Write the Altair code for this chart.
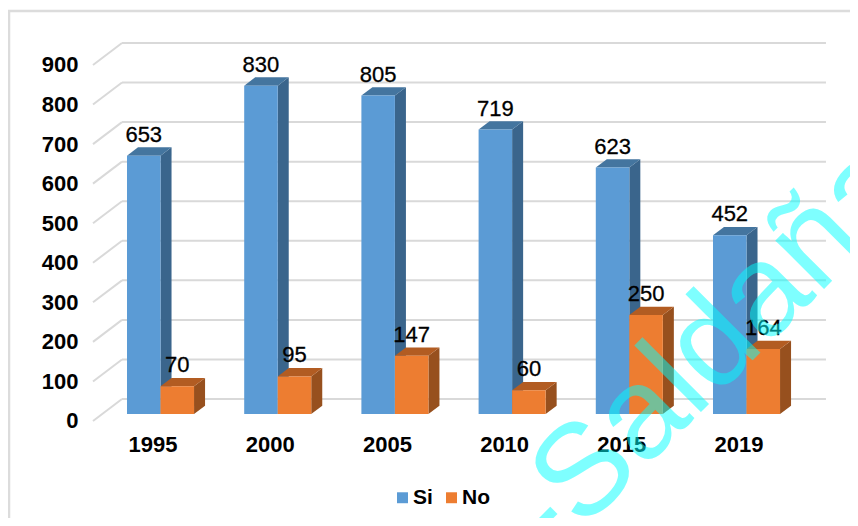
import altair as alt
import pandas as pd

years = ["1995", "2000", "2005", "2010", "2015", "2019"]
si = [653, 830, 805, 719, 623, 452]
no = [70, 95, 147, 60, 250, 164]
y_ticks = [0, 100, 200, 300, 400, 500, 600, 700, 800, 900]
watermark = "e -Saldaña"

FONT = "Liberation Sans"
BAR = 0.286      # bar width, in category units
DX = 0.094       # 3D depth, in category units
DV = 21          # 3D depth, in value units
X_DOM = [-0.2901, 6.169]
Y_DOM = [-17.7, 1016.2]
WALL_L, WALL_R = -0.0427, 5.964
WALL_DV, FLOOR_DV = 37.9, -17.7

xs = alt.Scale(domain=X_DOM, nice=False, zero=False)
ys = alt.Scale(domain=Y_DOM, nice=False, zero=False)
color = alt.Scale(domain=["Si", "No"], range=["#5b9bd5", "#ed7d31"])

axis_style = dict(title=None, grid=False, domain=False, ticks=False, labelFont=FONT, labelFontSize=22,
                  labelFontWeight="bold", labelColor="#000000", labelFlush=False)
x_ax = alt.Axis(values=[i + BAR for i in range(len(years))],
                labelExpr="['1995','2000','2005','2010','2015','2019'][round(datum.value-0.286)]",
                labelPadding=13, labelOffset=-8, **axis_style)
y_ax = alt.Axis(values=y_ticks, labelPadding=15, labelOffset=7, **axis_style)


def X(field):
    return alt.X(field, type="quantitative", scale=xs, axis=x_ax)


def Y(field):
    return alt.Y(field, type="quantitative", scale=ys, axis=y_ax, stack=None)


fronts, sides, tops = [], [], []
for i, y in enumerate(years):
    for serie, val, off in (("Si", si[i], 0.0), ("No", no[i], BAR)):
        x0, x1 = i + off, i + off + BAR
        fronts.append(dict(year=y, serie=serie, x0=x0, x1=x1, cx=(x0 + x1) / 2, v=val, base=0))
        key = f"{y}{serie}"
        sides += [
            dict(k=key, serie=serie, x=x1, lo=0, hi=val),
            dict(k=key, serie=serie, x=x1 + DX, lo=DV, hi=val + DV),
        ]
        tops += [
            dict(k=key, serie=serie, x=x0, lo=val, hi=val),
            dict(k=key, serie=serie, x=x0 + DX, lo=val, hi=val + DV),
            dict(k=key, serie=serie, x=x1, lo=val, hi=val + DV),
            dict(k=key, serie=serie, x=x1 + DX, lo=val + DV, hi=val + DV),
        ]
fronts = pd.DataFrame(fronts)
sides = pd.DataFrame(sides)
tops = pd.DataFrame(tops)
grid = pd.DataFrame({"v": y_ticks})
grid["back"] = grid.v + WALL_DV
grid["front"] = grid.v + FLOOR_DV
grid["xa"], grid["xb"], grid["xc"] = WALL_L, WALL_R, X_DOM[0]

# frame
one = pd.DataFrame({"a": [0]})
frame_left = alt.Chart(one).mark_rule(color="#dcdcdc", strokeWidth=2.5).encode(
    x=alt.value(-84), y=alt.value(-2), y2=alt.value(506))
frame_top = alt.Chart(one).mark_rule(color="#dcdcdc", strokeWidth=2.5).encode(
    x=alt.value(-85), x2=alt.value(757), y=alt.value(-1))

# walls
wall = alt.Chart(grid).mark_rule(color="#d9d9d9", strokeWidth=2).encode(
    x=X("xa"), x2="xb:Q", y=Y("back"))
floor = alt.Chart(grid).mark_rule(color="#d9d9d9", strokeWidth=2).encode(
    x=X("xc"), x2="xa:Q", y=Y("front"), y2="back:Q")


def faces(serie, side_c, top_c):
    s = alt.Chart(sides[sides.serie == serie]).mark_area(color=side_c).encode(
        x=X("x"), y=Y("hi"), y2="lo:Q", detail="k:N")
    t = alt.Chart(tops[tops.serie == serie]).mark_area(color=top_c).encode(
        x=X("x"), y=Y("hi"), y2="lo:Q", detail="k:N")
    return [s, t]


def front(serie):
    return alt.Chart(fronts[fronts.serie == serie]).mark_bar().encode(
        x=X("x0"), x2="x1:Q", y=Y("v"), y2="base:Q",
        color=alt.Color("serie:N", scale=color, legend=alt.Legend(
            orient="none", legendX=299, legendY=475, direction="horizontal", title=None,
            symbolType="square", symbolSize=120, symbolStrokeWidth=0, labelFont=FONT, labelFontSize=21,
            labelFontWeight="bold", labelColor="#000000", labelOffset=0, columnPadding=8, padding=0)),
    )


labels = alt.Chart(fronts).mark_text(
    font=FONT, fontSize=22, color="#000000", stroke="#000000", strokeWidth=0.3,
    baseline="alphabetic", dy=-14).encode(x=X("cx"), y=Y("v"), text="v:Q")

wm = alt.Chart(pd.DataFrame({"t": [watermark]})).mark_text(
    font=FONT, fontSize=130, color="#00ffff", opacity=0.5, angle=315, align="left", baseline="alphabetic"
).encode(x=alt.value(382), y=alt.value(626), text="t:N")

chart = (
    alt.layer(frame_left, frame_top, wall, floor,
              *faces("Si", "#3a658c", "#44759f"), front("Si"),
              *faces("No", "#97501e", "#b25c22"), front("No"),
              labels, wm)
    .properties(width=757, height=409,
                background="#ffffff",
                autosize=alt.AutoSizeParams(type="none"),
                padding={"left": 85, "top": 4, "right": 0, "bottom": 97})
    .configure_view(stroke=None)
)
chart.save("out.html", embed_options={"renderer": "svg", "actions": False})
